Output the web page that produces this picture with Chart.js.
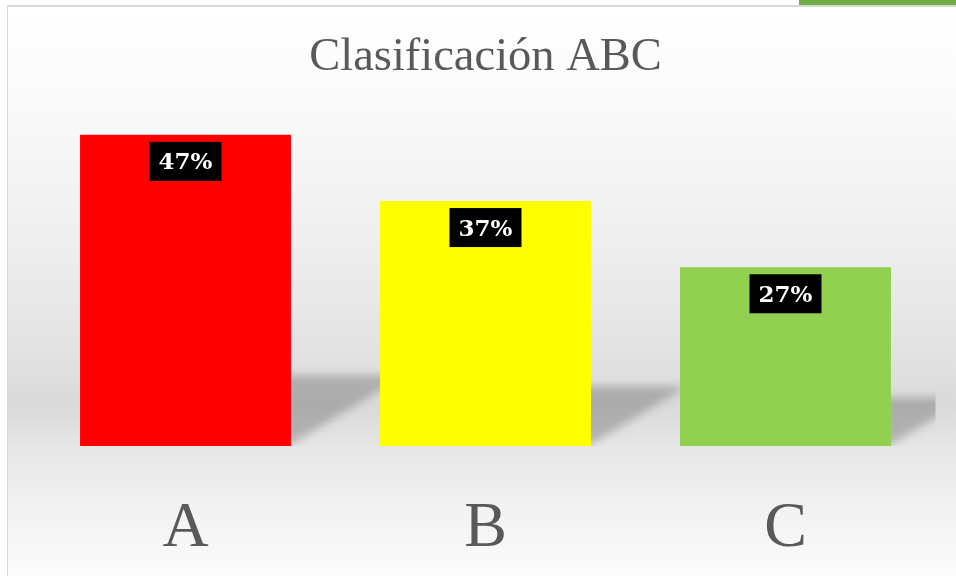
<!DOCTYPE html>
<html>
<head>
<meta charset="utf-8">
<title>Clasificación ABC</title>
<script src="https://cdn.jsdelivr.net/npm/chart.js@4/dist/chart.umd.min.js"></script>
<style>
  html, body { margin: 0; padding: 0; background: #ffffff; }
  body { width: 956px; height: 576px; position: relative; overflow: hidden; }
  #frame {
    position: absolute; left: 7px; top: 5px; right: 0; bottom: 0;
    border-left: 1px solid #d9d9d9; border-top: 2px solid #d9d9d9;
    background: linear-gradient(to bottom,
      #ffffff 0px, #fafafa 95px, #f2f2f2 195px, #e8e8e8 295px,
      #dfdfdf 370px, #d9d9d9 398px, #e6e6e6 440px, #f1f1f1 495px, #fcfcfc 571px);
  }
  #tab { position: absolute; left: 799px; top: 0; width: 157px; height: 5px; background: #70ad47; }
  #wrap { position: absolute; left: 15px; top: 0; width: 941px; height: 576px; }
</style>
</head>
<body>
<div id="frame"></div>
<div id="tab"></div>
<div id="wrap"><canvas id="chart"></canvas></div>
<script>
// ABC classification shares per class
const categories = ['A', 'B', 'C'];
const shares = [47, 37, 27];
const barColors = ['#ff0000', '#ffff00', '#92d050'];

// Soft cast shadow behind each bar, falling to the right onto the floor
const floorShadow = {
  id: 'floorShadow',
  beforeDatasetsDraw(chart) {
    const ctx = chart.ctx;
    const area = chart.chartArea;
    const meta = chart.getDatasetMeta(0);
    ctx.save();
    ctx.beginPath();
    ctx.rect(area.left, area.top, area.right - area.left, area.bottom - area.top);
    ctx.clip();
    ctx.filter = 'blur(4px)';
    ctx.fillStyle = 'rgba(0,0,0,0.21)';
    meta.data.forEach(bar => {
      const p = bar.getProps(['x', 'y', 'base', 'width'], true);
      const right = p.x + p.width / 2;
      const h = p.base - p.y;
      const top = p.base - (0.17 * h + 18);
      const reach = (p.base - top) / 0.62;
      ctx.beginPath();
      ctx.moveTo(right - 6, top);
      ctx.lineTo(right + reach, top);
      ctx.lineTo(right - 6, p.base + 2);
      ctx.closePath();
      ctx.fill();
    });
    ctx.restore();
  }
};

// Black value tags near the top of each bar
const valueTags = {
  id: 'valueTags',
  afterDatasetsDraw(chart) {
    const ctx = chart.ctx;
    const ds = chart.data.datasets[0];
    const meta = chart.getDatasetMeta(0);
    ctx.save();
    ctx.font = 'bold 23px "DejaVu Serif", serif';
    ctx.textAlign = 'center';
    ctx.textBaseline = 'middle';
    meta.data.forEach((bar, i) => {
      const p = bar.getProps(['x', 'y'], true);
      const text = ds.data[i] + '%';
      const w = 72;
      const h = 39;
      const top = p.y + 7;
      ctx.fillStyle = '#000000';
      ctx.fillRect(p.x - w / 2, top, w, h);
      ctx.fillStyle = '#ffffff';
      ctx.fillText(text, p.x, top + h / 2 + 2);
    });
    ctx.restore();
  }
};

new Chart(document.getElementById('chart'), {
  type: 'bar',
  data: {
    labels: categories,
    datasets: [{
      data: shares,
      backgroundColor: barColors,
      borderWidth: 0,
      categoryPercentage: 1,
      barPercentage: 0.703
    }]
  },
  options: {
    responsive: true,
    maintainAspectRatio: false,
    animation: false,
    layout: { padding: { left: 20.5, right: 20.5, top: 0, bottom: 0 } },
    plugins: {
      legend: { display: false },
      tooltip: { enabled: false },
      title: {
        display: true,
        text: 'Clasificación ABC',
        color: '#595959',
        font: { family: '"Liberation Serif", serif', size: 46.5, weight: 'normal', lineHeight: 1.2 },
        padding: { top: 30, bottom: 29.2 }
      }
    },
    scales: {
      x: {
        grid: { display: false, drawTicks: false },
        border: { display: false },
        ticks: {
          color: '#595959',
          padding: 45,
          font: { family: '"Liberation Serif", serif', size: 64, lineHeight: 1.2 }
        },
        afterFit(scale) { scale.height = 130; }
      },
      y: {
        display: false,
        min: 0,
        max: 50
      }
    }
  },
  plugins: [floorShadow, valueTags]
});
</script>
</body>
</html>
